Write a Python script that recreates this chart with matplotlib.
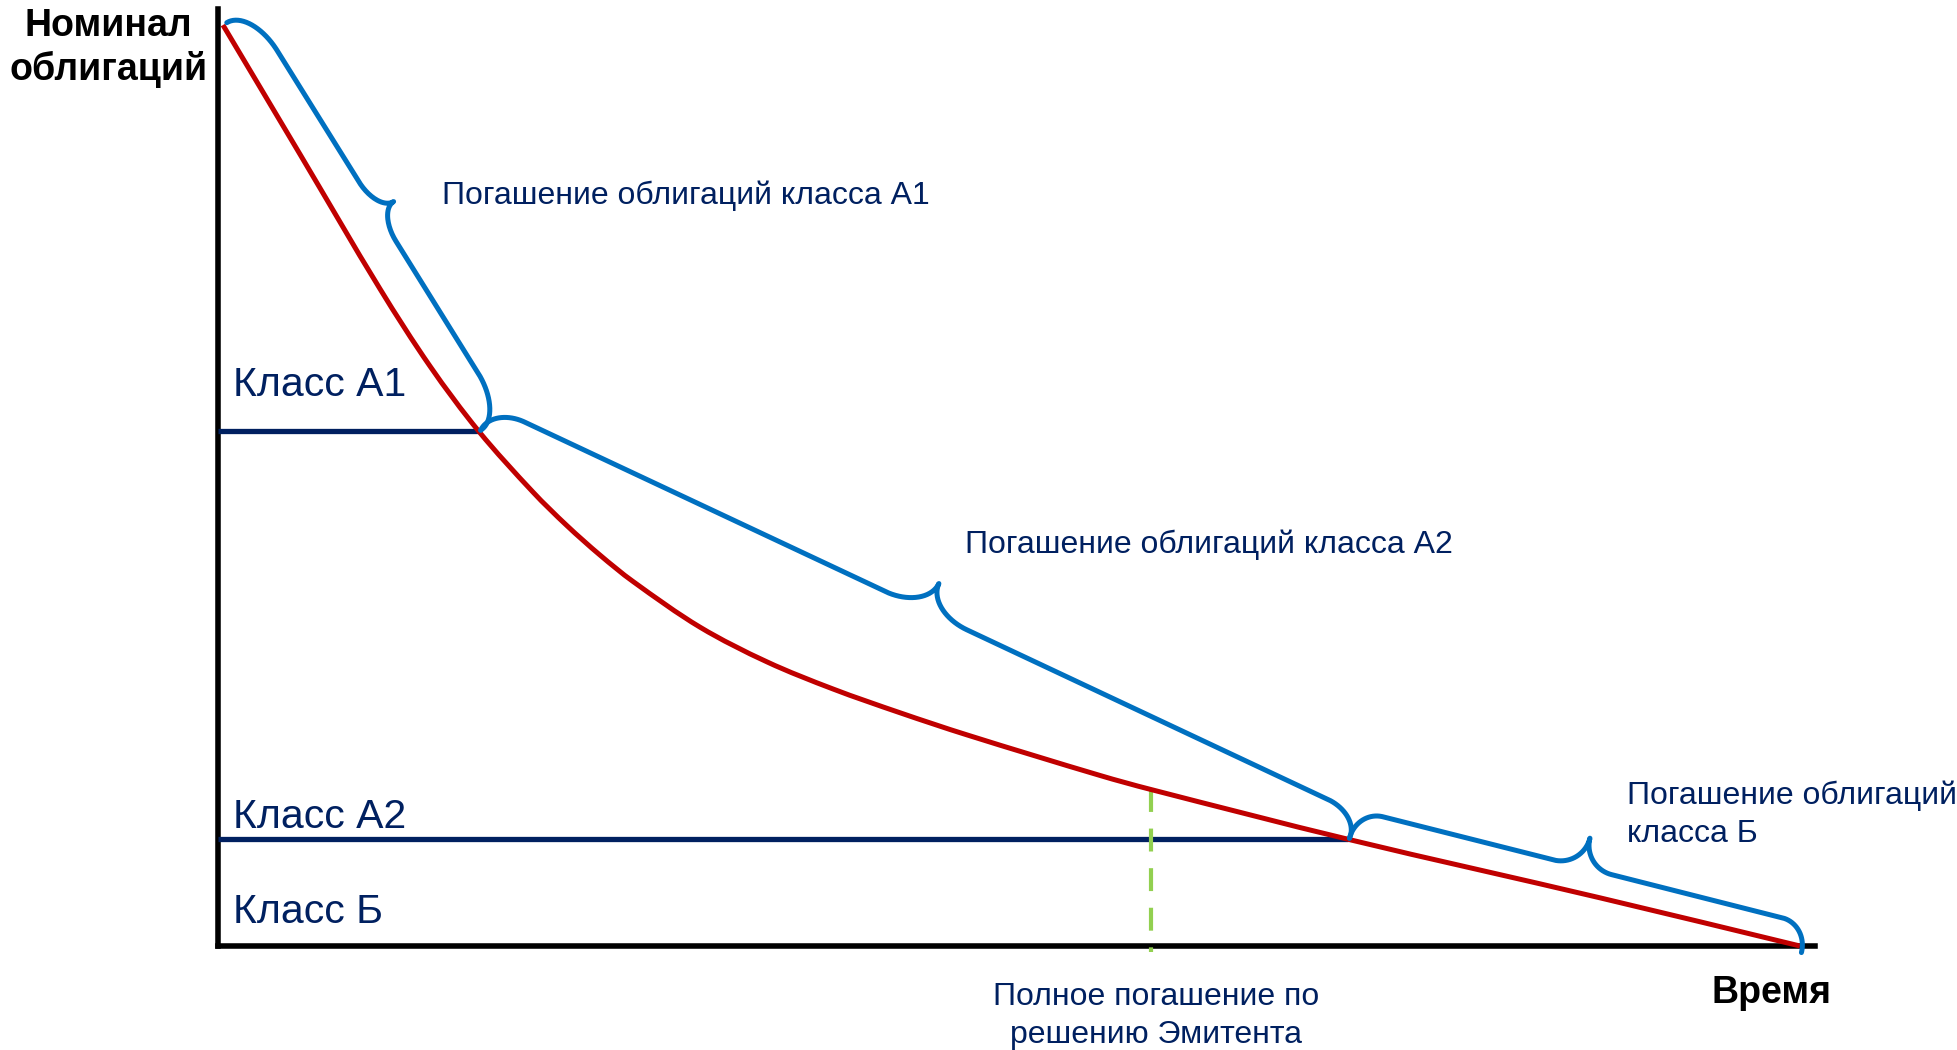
import numpy as np
import matplotlib.pyplot as plt
from matplotlib.path import Path
from matplotlib.patches import PathPatch

plt.rcParams['font.family'] = ['Liberation Sans', 'DejaVu Sans']

# кривая номинала облигаций (время, номинал)
time_pts = [0.31, 5.14, 10.14, 13.28, 16.34, 19.72, 21.85, 23.92, 25.99,
            30.18, 34.38, 38.51, 42.71, 46.90, 55.23, 58.40, 70.76, 86.54, 99.06]
nominal_pts = [98.29, 84.48, 70.14, 61.87, 54.91, 48.45, 44.86, 41.72, 38.90,
               34.03, 30.32, 27.43, 24.89, 22.53, 18.20, 16.71, 11.39, 5.14, 0.0]

# уровни классов: номинал и момент, когда кривая до него доходит
class_names = ['Класс А1', 'Класс А2', 'Класс Б']
class_levels = [54.91, 11.39]
class_ends = [16.34, 70.76]
class_label_y = [58.73, 12.63, 2.42]

# полное погашение по решению эмитента
call_time = 58.40
call_nominal = 16.71

# фигурные скобки: начало и конец участка погашения
brace_start = [(0.55, 98.54), (16.45, 55.05), (70.85, 11.5)]
brace_end = [(16.45, 55.05), (70.85, 11.5), (99.15, -0.7)]
brace_text = [['Погашение облигаций класса А1'],
              ['Погашение облигаций класса А2'],
              ['Погашение облигаций', 'класса Б']]
brace_text_x = [14.0, 46.76, 88.21]
brace_text_y = [[79.19], [41.91], [15.15, 11.13]]

navy = '#002060'
blue = '#0070C0'
red = '#C00000'
green = '#92D050'


def smooth_path(ax, xs, ys):
    # гладкая линия через точки (как сглаженная линия в Excel)
    inv = ax.transData.inverted()
    p = ax.transData.transform(np.column_stack([xs, ys]))
    t = np.concatenate([[0], np.cumsum(np.hypot(*np.diff(p, axis=0).T))])
    m = np.zeros_like(p)
    m[1:-1] = (p[2:] - p[:-2]) / (t[2:] - t[:-2])[:, None]
    m[0] = (p[1] - p[0]) / (t[1] - t[0])
    m[-1] = (p[-1] - p[-2]) / (t[-1] - t[-2])
    verts = [p[0]]
    codes = [Path.MOVETO]
    for i in range(len(p) - 1):
        dt = t[i + 1] - t[i]
        verts += [p[i] + m[i] * dt / 3, p[i + 1] - m[i + 1] * dt / 3, p[i + 1]]
        codes += [Path.CURVE4] * 3
    return Path(inv.transform(np.array(verts)), codes)


def brace(ax, p0, p1, h, tip, a_end, a_tip, **kw):
    # скобка строится в пикселях, потом переводится обратно в данные
    d0, d1 = ax.transData.transform([p0, p1])
    u = d1 - d0
    L = np.hypot(u[0], u[1])
    u = u / L
    n = np.array([-u[1], u[0]])
    if n[1] < 0:
        n = -n
    th = np.linspace(0, np.pi / 2, 40)
    s1 = a_end * (1 - np.cos(th))
    o1 = h * np.sin(th)
    s2 = L / 2 - a_tip + a_tip * np.sin(th)
    o2 = tip - (tip - h) * np.cos(th)
    s = np.concatenate([s1, s2])
    o = np.concatenate([o1, o2])
    s = np.concatenate([s, L - s[::-1]])
    o = np.concatenate([o, o[::-1]])
    pts = d0 + np.outer(s, u) + np.outer(o, n)
    xy = ax.transData.inverted().transform(pts)
    ax.plot(xy[:, 0], xy[:, 1], **kw)


fig = plt.figure(figsize=(19.57, 10.5), dpi=100)
ax = fig.add_axes([218 / 1957, 104 / 1050, 1597 / 1957, 937 / 1050])
ax.set_xlim(0, 100)
ax.set_ylim(0, 100)
ax.set_xticks([])
ax.set_yticks([])
for side in ['top', 'right']:
    ax.spines[side].set_visible(False)
for side in ['left', 'bottom']:
    ax.spines[side].set_linewidth(4)
    ax.spines[side].set_color('black')
    ax.spines[side].set_zorder(1)

# уровни классов
for lvl, xe in zip(class_levels, class_ends):
    ax.plot([0, xe], [lvl, lvl], color=navy, lw=3.8, solid_capstyle='butt', zorder=2)

ax.plot([call_time, call_time], [call_nominal, -0.6], color=green, lw=3,
        linestyle=(0, (5.5, 4)), zorder=3, clip_on=False)

red_path = smooth_path(ax, time_pts, nominal_pts)
ax.add_patch(PathPatch(red_path, facecolor='none', edgecolor=red, lw=3.6,
                       zorder=4, clip_on=False, joinstyle='round'))

brace_sizes = [(28, 47, 50, 35), (26, 56, 36, 45), (29, 59, 27, 30)]
for p0, p1, sz in zip(brace_start, brace_end, brace_sizes):
    brace(ax, p0, p1, *sz, color=blue, lw=3.6, zorder=5, clip_on=False,
          solid_capstyle='round')

for name, y in zip(class_names, class_label_y):
    ax.text(0.94, y, name, fontsize=29.5, color=navy, va='baseline', ha='left')

for lines, x, ys in zip(brace_text, brace_text_x, brace_text_y):
    for line, y in zip(lines, ys):
        ax.text(x, y, line, fontsize=23, color=navy, va='baseline', ha='left')

ax.text(58.74, -6.30, 'Полное погашение по', fontsize=23, color=navy,
        va='baseline', ha='center', clip_on=False)
ax.text(58.74, -10.35, 'решению Эмитента', fontsize=23, color=navy,
        va='baseline', ha='center', clip_on=False)

fig.text(108.5 / 1957, 1 - 36 / 1050, 'Номинал', fontsize=27, fontweight='bold',
         ha='center', va='baseline')
fig.text(108.5 / 1957, 1 - 80 / 1050, 'облигаций', fontsize=27, fontweight='bold',
         ha='center', va='baseline')
fig.text(1771 / 1957, 1 - 1003 / 1050, 'Время', fontsize=27, fontweight='bold',
         ha='center', va='baseline')

fig.savefig('out.png', dpi=100)
